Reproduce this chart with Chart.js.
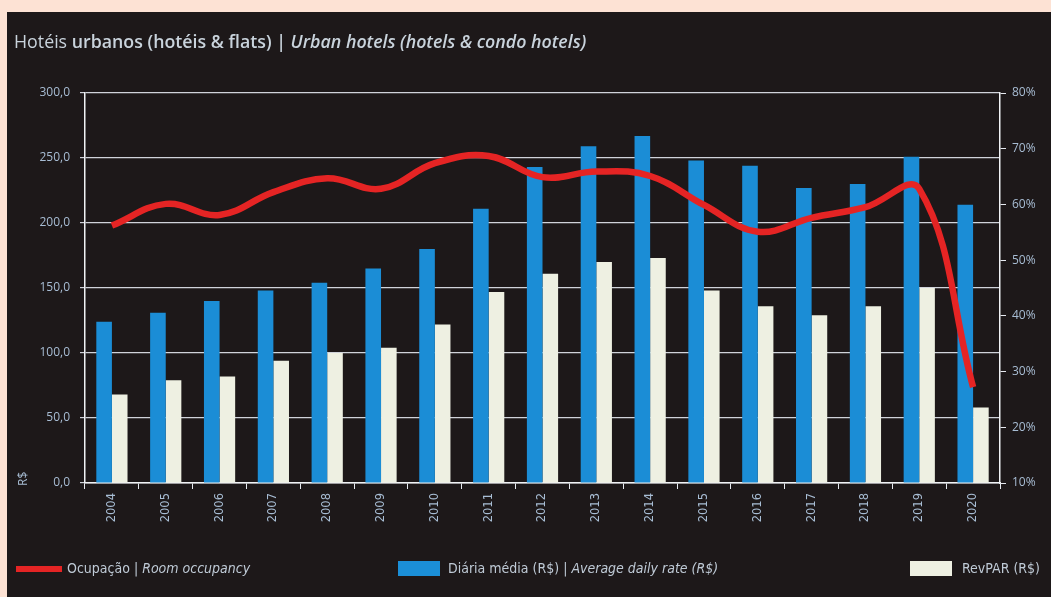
<!DOCTYPE html>
<html>
<head>
<meta charset="utf-8">
<script src="https://cdn.jsdelivr.net/npm/chart.js@4.4.1/dist/chart.umd.min.js"></script>
<style>
  html, body { margin: 0; padding: 0; }
  body { width: 1051px; height: 597px; background: #fde2d4; position: relative; overflow: hidden; }
  #wrap { position: absolute; left: 0; top: 0; width: 1051px; height: 597px; }
  .titulo { position: absolute; left: 14px; top: 29px; font-family: "Open Sans", sans-serif; font-size: 17.8px; font-weight: 600; color: #c9d3dc; white-space: nowrap; }
  .titulo .leve { font-weight: 400; }
  .leg { position: absolute; top: 560px; font-family: "Liberation Sans Narrow", "DejaVu Sans Condensed", sans-serif; font-size: 14px; color: #bfcad6; white-space: nowrap; }
  .sw { position: absolute; }
  .rs { position: absolute; left: 14px; top: 470px; transform: rotate(-90deg); transform-origin: left top; font-family: "Open Sans", sans-serif; font-size: 12px; color: #a8bdd4; }
</style>
</head>
<body>
<div id="wrap"><canvas id="grafico" width="1051" height="597"></canvas></div>
<div class="titulo"><span class="leve">Hotéis</span> urbanos (hotéis &amp; flats) | <i>Urban hotels (hotels &amp; condo hotels)</i></div>
<div class="rs" style="top:486px;">R$</div>
<div class="sw" style="left:16px;top:566px;width:46px;height:6px;background:#e52424;"></div>
<div class="leg" style="left:67px;">Ocupação | <i>Room occupancy</i></div>
<div class="sw" style="left:398px;top:561px;width:42px;height:15px;background:#1b8fd8;"></div>
<div class="leg" style="left:448px;">Diária média (R$) | <i>Average daily rate (R$)</i></div>
<div class="sw" style="left:910px;top:561px;width:42px;height:15px;background:#eef0e2;"></div>
<div class="leg" style="left:962px;">RevPAR (R$)</div>
<script>
var anos = ['2004','2005','2006','2007','2008','2009','2010','2011','2012','2013','2014','2015','2016','2017','2018','2019','2020'];
var diaria = [124,131,140,148,154,165,180,211,243,259,267,248,244,227,230,251,214];
var revpar = [68,79,82,94,100,104,122,147,161,170,173,148,136,129,136,150,58];
var ocupacao = [56.2,60.1,58.1,62.2,64.7,62.8,67.4,68.7,64.9,65.9,65.1,59.9,55.1,57.6,59.5,62.8,27.2];

var corTick = '#a8bdd4';

// fundo escuro com moldura clara
var fundo = {
    id: 'fundo',
    beforeDraw: function(chart) {
        var ctx = chart.ctx;
        ctx.save();
        ctx.fillStyle = '#1d1819';
        ctx.fillRect(7, 12, chart.width - 7, chart.height - 12);
        ctx.restore();
    }
};

var chart = new Chart(document.getElementById('grafico'), {
    type: 'bar',
    data: {
        labels: anos,
        datasets: [
            {
                type: 'line',
                label: 'Ocupação',
                data: ocupacao,
                yAxisID: 'y1',
                borderColor: '#e52424',
                borderWidth: 6.5,
                pointRadius: 0,
                tension: 0.4,
                order: 0
            },
            {
                label: 'Diária média',
                data: diaria,
                backgroundColor: '#1b8dd6',
                yAxisID: 'y',
                categoryPercentage: 0.58,
                barPercentage: 1.0,
                order: 1
            },
            {
                label: 'RevPAR',
                data: revpar,
                backgroundColor: '#eef0e2',
                yAxisID: 'y',
                categoryPercentage: 0.58,
                barPercentage: 1.0,
                order: 1
            }
        ]
    },
    options: {
        responsive: false,
        animation: false,
        layout: { padding: { left: 25, right: 6, top: 93, bottom: 64 } },
        plugins: { legend: { display: false }, tooltip: { enabled: false } },
        scales: {
            x: {
                offset: true,
                grid: { offset: true, drawOnChartArea: false, color: '#e6e9ef', tickLength: 6 },
                border: { color: '#f0f2f5', width: 1.5 },
                ticks: { color: corTick, font: { family: 'DejaVu Sans', size: 11.5 }, minRotation: 90, maxRotation: 90, padding: 4 },
                afterFit: function(s) { s.height = 50; }
            },
            y: {
                position: 'left',
                min: 0, max: 300,
                ticks: {
                    stepSize: 50, color: corTick, padding: 10,
                    font: { family: 'Open Sans', size: 12 },
                    callback: function(v) { return v.toFixed(1).replace('.', ','); }
                },
                grid: { color: 'rgba(228,232,240,0.9)', lineWidth: 1.2, tickLength: 5 },
                border: { color: '#f0f2f5', width: 1.5 },
                afterFit: function(s) { s.width = 60; }
            },
            y1: {
                position: 'right',
                min: 10, max: 80,
                ticks: {
                    stepSize: 10, color: corTick, padding: 6,
                    font: { family: 'Open Sans', size: 12 },
                    callback: function(v) { return v + '%'; }
                },
                grid: { drawOnChartArea: false, color: '#e6e9ef', tickLength: 6 },
                border: { color: '#f0f2f5', width: 1.5 },
                afterFit: function(s) { s.width = 45; }
            }
        }
    },
    plugins: [fundo]
});
</script>
</body>
</html>
